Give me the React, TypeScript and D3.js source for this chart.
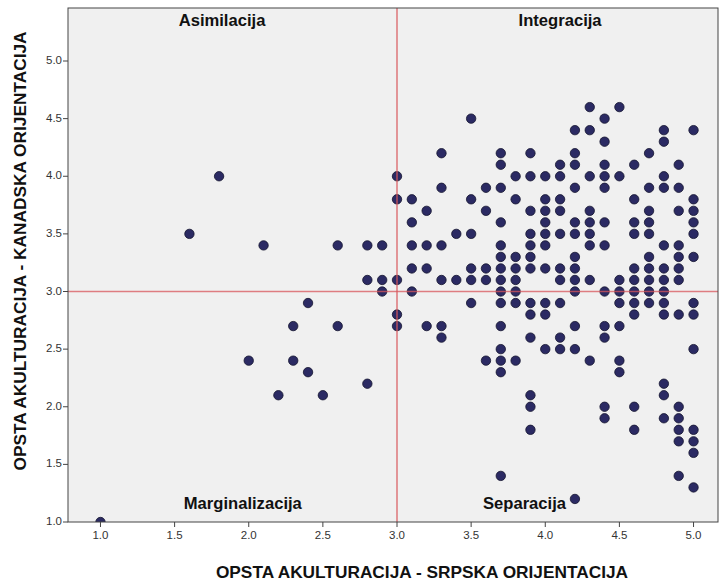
import React from "react";
import * as d3 from "d3";

const xs10: number[] = [1.0, 1.6, 1.8, 2.0, 2.1, 2.2, 2.3, 2.4, 2.5, 2.6, 2.8, 2.9, 3.0, 3.1, 3.2, 3.3, 3.4, 3.5, 3.6, 3.7, 3.8, 3.9, 4.0, 4.1, 4.2, 4.3, 4.4, 4.5, 4.6, 4.7, 4.8, 4.9, 5.0];
const yColumns: number[][] = [
  [1.0],
  [3.5],
  [4.0],
  [2.4],
  [3.4],
  [2.1],
  [2.7, 2.4],
  [2.9, 2.3],
  [2.1],
  [3.4, 2.7],
  [3.4, 3.1, 2.2],
  [3.4, 3.1, 3.0],
  [4.0, 3.8, 3.1, 2.8, 2.7],
  [3.8, 3.6, 3.4, 3.2, 3.0],
  [3.7, 3.4, 3.2, 2.7],
  [4.2, 3.9, 3.4, 3.1, 2.7, 2.6],
  [3.5, 3.1],
  [4.5, 3.8, 3.5, 3.2, 3.1, 2.9],
  [3.9, 3.7, 3.2, 3.1, 2.4],
  [4.2, 4.1, 3.9, 3.6, 3.4, 3.3, 3.2, 3.1, 3.0, 2.9, 2.7, 2.5, 2.4, 2.3, 1.4],
  [4.0, 3.8, 3.3, 3.2, 3.1, 3.0, 2.9, 2.4],
  [4.2, 4.0, 3.7, 3.5, 3.4, 3.3, 3.2, 2.9, 2.8, 2.6, 2.1, 2.0, 1.8],
  [4.0, 3.8, 3.7, 3.6, 3.5, 3.4, 3.2, 2.9, 2.8, 2.5],
  [4.1, 4.0, 3.8, 3.7, 3.5, 3.2, 3.1, 2.9, 2.6, 2.5],
  [4.4, 4.2, 4.1, 3.9, 3.6, 3.5, 3.3, 3.2, 3.1, 3.0, 2.7, 2.5, 1.2],
  [4.6, 4.4, 4.0, 3.7, 3.6, 3.5, 3.4, 3.1, 2.4],
  [4.5, 4.3, 4.1, 4.0, 3.9, 3.6, 3.4, 3.0, 2.7, 2.6, 2.0, 1.9],
  [4.6, 4.0, 3.1, 3.0, 2.9, 2.7, 2.4, 2.3],
  [4.1, 3.8, 3.6, 3.5, 3.2, 3.1, 3.0, 2.9, 2.8, 2.0, 1.8],
  [4.2, 3.9, 3.7, 3.6, 3.5, 3.3, 3.2, 3.1, 3.0, 2.9],
  [4.4, 4.3, 4.0, 3.9, 3.4, 3.2, 3.1, 3.0, 2.9, 2.8, 2.2, 2.1, 1.9],
  [4.1, 3.9, 3.7, 3.4, 3.3, 3.2, 3.1, 2.8, 2.0, 1.9, 1.8, 1.7, 1.4],
  [4.4, 3.8, 3.7, 3.6, 3.5, 3.3, 2.9, 2.8, 2.5, 1.8, 1.7, 1.6, 1.3],
];
const xTicks: number[] = [1.0, 1.5, 2.0, 2.5, 3.0, 3.5, 4.0, 4.5, 5.0];
const yTicks: number[] = [1.0, 1.5, 2.0, 2.5, 3.0, 3.5, 4.0, 4.5, 5.0];
const refX = 3.0;
const refY = 3.0;
const quadrantLabels = [
  { text: "Asimilacija", x: 1.82, y: 5.34 },
  { text: "Integracija", x: 4.1, y: 5.34 },
  { text: "Marginalizacija", x: 1.96, y: 1.155 },
  { text: "Separacija", x: 3.86, y: 1.155 },
];
const xTitle = "OPSTA AKULTURACIJA - SRPSKA ORIJENTACIJA";
const yTitle = "OPSTA AKULTURACIJA - KANADSKA ORIJENTACIJA";

export default function App() {
  const W = 727, H = 584;
  const left = 68, right = 718, top = 8, bottom = 522;
  const x = d3.scaleLinear().domain([0.781, 5.165]).range([left, right]);
  const y = d3.scaleLinear().domain([1, 5.46]).range([bottom, top]);
  const points: { x: number; y: number }[] = [];
  xs10.forEach((xv, i) => yColumns[i].forEach((yv) => points.push({ x: xv, y: yv })));
  const font = "'Liberation Sans', Arial, sans-serif";
  return (
    <svg width={W} height={H} style={{ position: "absolute", left: 0, top: 0 }} fontFamily={font}>
      <rect x={0} y={0} width={W} height={H} fill="#ffffff" />
      <defs>
        <clipPath id="plotclip">
          <rect x={left} y={top} width={right - left} height={bottom - top} />
        </clipPath>
      </defs>
      <rect x={left} y={top} width={right - left} height={bottom - top} fill="#F0F0F0" />
      <g clipPath="url(#plotclip)">
        {points.map((p, i) => (
          <circle key={i} cx={x(p.x)} cy={y(p.y)} r={4.7} fill="#2B2A63" stroke="#14142e" strokeWidth={0.8} />
        ))}
        <line x1={x(refX)} x2={x(refX)} y1={top} y2={bottom} stroke="#D8575C" strokeOpacity={0.75} strokeWidth={1.6} />
        <line x1={left} x2={right} y1={y(refY)} y2={y(refY)} stroke="#D8575C" strokeOpacity={0.75} strokeWidth={1.6} />
      </g>
      <rect x={left} y={top} width={right - left} height={bottom - top} fill="none" stroke="#444" strokeWidth={1} />
      {quadrantLabels.map((q) => (
        <text key={q.text} x={x(q.x)} y={y(q.y)} textAnchor="middle" fontSize={16.6} fontWeight="bold" fill="#111" dominantBaseline="middle">
          {q.text}
        </text>
      ))}
      {xTicks.map((t) => (
        <g key={"x" + t}>
          <line x1={x(t)} x2={x(t)} y1={bottom} y2={bottom + 5} stroke="#444" />
          <text x={x(t)} y={bottom + 17} textAnchor="middle" fontSize={11.5} fill="#333">{t.toFixed(1)}</text>
        </g>
      ))}
      {yTicks.map((t) => (
        <g key={"y" + t}>
          <line x1={left - 5} x2={left} y1={y(t)} y2={y(t)} stroke="#444" />
          <text x={left - 6} y={y(t)} textAnchor="end" dominantBaseline="middle" fontSize={11.5} fill="#333">{t.toFixed(1)}</text>
        </g>
      ))}
      <text x={422} y={578} textAnchor="middle" fontSize={17.3} fontWeight="bold" fill="#111">{xTitle}</text>
      <text transform={`translate(26,251) rotate(-90)`} textAnchor="middle" fontSize={17.3} fontWeight="bold" fill="#111">{yTitle}</text>
    </svg>
  );
}
